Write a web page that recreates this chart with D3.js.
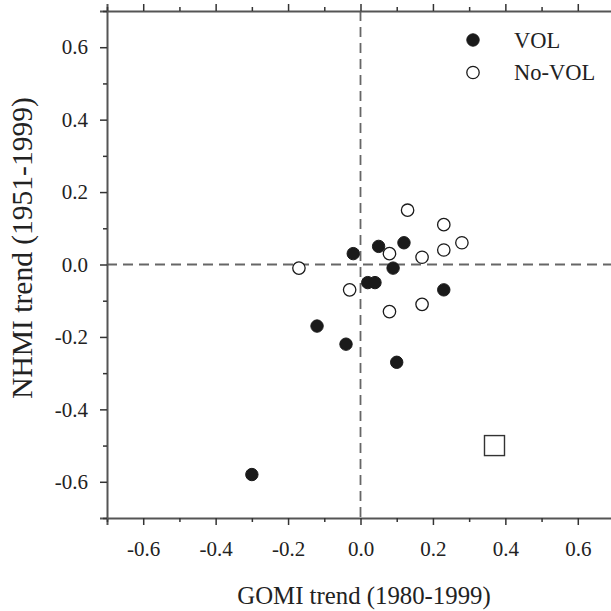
<!DOCTYPE html>
<html>
<head>
<meta charset="utf-8">
<script src="https://cdn.jsdelivr.net/npm/d3@7"></script>
<style>
  html, body { margin: 0; padding: 0; background: #fff; }
  svg { display: block; }
  text { font-family: "Liberation Serif", "Times New Roman", serif; fill: #222; }
</style>
</head>
<body>
<svg id="chart" width="611" height="611"></svg>
<script>
// ---- data ----
const volX = [-0.02, 0.05, 0.12, 0.09, 0.02, 0.04, 0.23, -0.12, -0.04, 0.10, -0.30];
const volY = [0.03, 0.05, 0.06, -0.01, -0.05, -0.05, -0.07, -0.17, -0.22, -0.27, -0.58];
const noVolX = [-0.17, 0.13, 0.23, 0.28, 0.23, 0.08, 0.17, -0.03, 0.17, 0.08];
const noVolY = [-0.01, 0.15, 0.11, 0.06, 0.04, 0.03, 0.02, -0.07, -0.11, -0.13];
const squareX = [0.37];
const squareY = [-0.50];
const majorTicks = [-0.6, -0.4, -0.2, 0.0, 0.2, 0.4, 0.6];
const tickLabels = ["-0.6", "-0.4", "-0.2", "0.0", "0.2", "0.4", "0.6"];
const minorTicks = [-0.7, -0.5, -0.3, -0.1, 0.1, 0.3, 0.5, 0.7];
const legendLabels = ["VOL", "No-VOL"];
const xTitle = "GOMI trend (1980-1999)";
const yTitle = "NHMI trend (1951-1999)";

// ---- layout ----
const svg = d3.select("#chart");
const pLeft = 107, pRight = 614, pTop = 11, pBottom = 518;
const x = d3.scaleLinear().domain([-0.7, 0.7]).range([pLeft, pRight]);
const y = d3.scaleLinear().domain([-0.7, 0.7]).range([pBottom, pTop]);
const labelOf = v => tickLabels[majorTicks.findIndex(t => Math.abs(t - v) < 1e-9)];
const axisColor = "#555";

function styleAxis(g, width) {
  g.select(".domain").attr("stroke", axisColor).attr("stroke-width", width);
  g.selectAll(".tick line").attr("stroke", "#333").attr("stroke-width", 1.5);
  g.selectAll(".tick text").attr("font-family", "Liberation Serif, serif").attr("font-size", 21).attr("fill", "#1e1e1e");
}
function minorStyle(g) {
  g.select(".domain").remove();
  g.selectAll(".tick line").attr("stroke", "#333").attr("stroke-width", 1.5);
}

// zero dashed lines
svg.append("line").attr("x1", x(0)).attr("x2", x(0)).attr("y1", pTop).attr("y2", pBottom)
  .attr("stroke", "#666").attr("stroke-width", 1.8).attr("stroke-dasharray", "10,6");
svg.append("line").attr("x1", pLeft).attr("x2", pRight).attr("y1", y(0)).attr("y2", y(0))
  .attr("stroke", "#666").attr("stroke-width", 1.8).attr("stroke-dasharray", "10,6");

// bottom axis
const gB = svg.append("g").attr("transform", `translate(0,${pBottom})`)
  .call(d3.axisBottom(x).tickValues(majorTicks).tickSize(7).tickPadding(16).tickFormat(labelOf));
styleAxis(gB, 2);
svg.append("g").attr("transform", `translate(0,${pBottom})`)
  .call(d3.axisBottom(x).tickValues(minorTicks).tickSize(4).tickFormat("")).call(minorStyle);

// top axis
const gT = svg.append("g").attr("transform", `translate(0,${pTop})`)
  .call(d3.axisTop(x).tickValues(majorTicks).tickSize(7).tickFormat(""));
styleAxis(gT, 2);
svg.append("g").attr("transform", `translate(0,${pTop})`)
  .call(d3.axisTop(x).tickValues(minorTicks).tickSize(4).tickFormat("")).call(minorStyle);

// left axis
const gL = svg.append("g").attr("transform", `translate(${pLeft},0)`)
  .call(d3.axisLeft(y).tickValues(majorTicks).tickSize(7).tickPadding(12).tickFormat(labelOf));
styleAxis(gL, 2);
svg.append("g").attr("transform", `translate(${pLeft},0)`)
  .call(d3.axisLeft(y).tickValues(minorTicks).tickSize(4).tickFormat("")).call(minorStyle);

// right axis (mostly outside view)
const gR = svg.append("g").attr("transform", `translate(${pRight},0)`)
  .call(d3.axisRight(y).tickValues(majorTicks).tickSize(7).tickFormat(""));
styleAxis(gR, 2);

// points
const r = 6.2;
svg.append("g").selectAll("circle").data(volX.map((v, i) => [v, volY[i]])).join("circle")
  .attr("cx", d => x(d[0])).attr("cy", d => y(d[1])).attr("r", r)
  .attr("fill", "#1a1a1a").attr("stroke", "#1a1a1a").attr("stroke-width", 1);
svg.append("g").selectAll("circle").data(noVolX.map((v, i) => [v, noVolY[i]])).join("circle")
  .attr("cx", d => x(d[0])).attr("cy", d => y(d[1])).attr("r", r)
  .attr("fill", "#fff").attr("stroke", "#1a1a1a").attr("stroke-width", 1.3);
const sq = 20;
svg.append("g").selectAll("rect").data(squareX.map((v, i) => [v, squareY[i]])).join("rect")
  .attr("x", d => x(d[0]) - sq / 2).attr("y", d => y(d[1]) - sq / 2)
  .attr("width", sq).attr("height", sq)
  .attr("fill", "#fff").attr("stroke", "#333").attr("stroke-width", 1.4);

// legend
const leg = svg.append("g");
legendLabels.forEach((lab, i) => {
  const cy = 40 + i * 32.5;
  leg.append("circle").attr("cx", 473).attr("cy", cy).attr("r", r)
    .attr("fill", i === 0 ? "#1a1a1a" : "#fff").attr("stroke", "#1a1a1a").attr("stroke-width", i === 0 ? 1 : 1.3);
  leg.append("text").attr("x", 514).attr("y", cy + 7.5).attr("font-size", 22.5).text(lab);
});

// titles
svg.append("text").attr("x", 364).attr("y", 604).attr("text-anchor", "middle")
  .attr("font-size", 24.8).text(xTitle);
svg.append("text").attr("transform", `translate(32,248) rotate(-90)`).attr("text-anchor", "middle")
  .attr("font-size", 29.5).text(yTitle);
</script>
</body>
</html>
